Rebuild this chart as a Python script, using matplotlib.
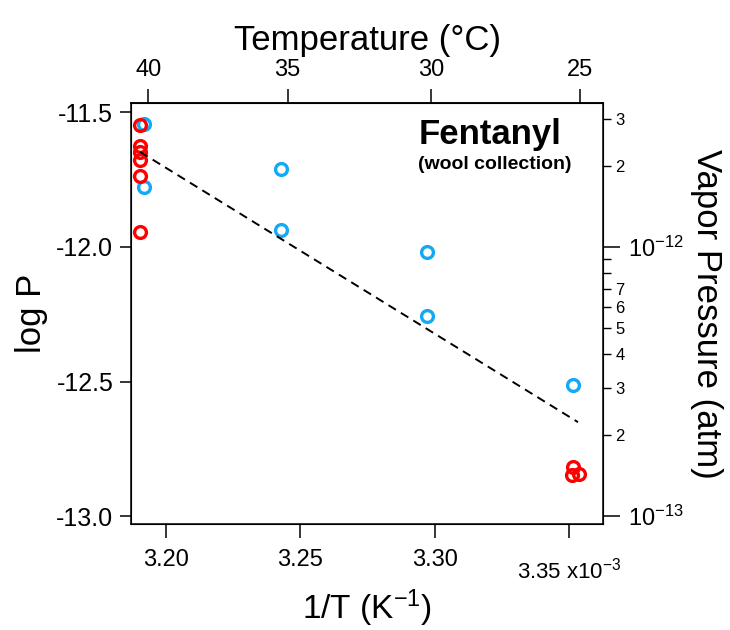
import numpy as np
import matplotlib
matplotlib.use("Agg")
import matplotlib.pyplot as plt
from matplotlib.ticker import FixedLocator, FuncFormatter

plt.rcParams['font.family'] = ['Liberation Sans', 'DejaVu Sans']
plt.rcParams['mathtext.default'] = 'regular'

# 1/T in units of 1e-3 K^-1, log10 P
blue_x = [3.1916, 3.1916, 3.2428, 3.2428, 3.2972, 3.2972, 3.3515]
blue_y = [-11.543, -11.777, -11.710, -11.937, -12.019, -12.257, -12.513]
red_x = [3.1903, 3.1903, 3.1903, 3.1903, 3.1903, 3.1903, 3.3515, 3.3511, 3.3537]
red_y = [-11.546, -11.623, -11.646, -11.677, -11.736, -11.944, -12.818, -12.848, -12.844]
fit_x = [3.1903, 3.3534]
fit_y = [-11.647, -12.651]

bottom_ticks = [3.20, 3.25, 3.30, 3.35]
bottom_labels = ['3.20', '3.25', '3.30', '']
left_ticks = [-11.5, -12.0, -12.5, -13.0]
top_ticks = [40, 35, 30, 25]

xlim = (3.1870, 3.3627)
ylim = (-13.030, -11.465)

fig = plt.figure(figsize=(7.3, 6.3), dpi=100)
ax = fig.add_axes([0.180, 0.168, 0.646, 0.6685])

ax.plot(blue_x, blue_y, 'o', mfc='none', mec='#12aaf5', ms=8.5, mew=2.4, zorder=3)
ax.plot(red_x, red_y, 'o', mfc='none', mec='#ff0000', ms=8.5, mew=2.4, zorder=4)
ax.plot(fit_x, fit_y, color='black', lw=1.4, ls=(0, (4.5, 3)), zorder=5)

ax.set_xlim(*xlim)
ax.set_ylim(*ylim)
for s in ax.spines.values():
    s.set_linewidth(1.1)

ax.set_xticks(bottom_ticks)
ax.set_xticklabels(bottom_labels)
ax.set_yticks(left_ticks)
ax.set_yticklabels([f'{v:.1f}' for v in left_ticks])
ax.tick_params(axis='x', direction='out', length=10, width=1.1, pad=8, labelsize=17)
ax.tick_params(axis='y', direction='out', length=8, width=1.1, pad=5, labelsize=18)
ax.text(3.35, -0.08, '3.35 x10$^{-3}$', transform=ax.get_xaxis_transform(),
        ha='center', va='top', fontsize=16)

ax.set_xlabel('1/T (K$^{-1}$)', fontsize=24, labelpad=12)
ax.set_ylabel('log P', fontsize=25, labelpad=6)

# top axis: temperature in C
top = ax.secondary_xaxis('top', functions=(lambda u: 1e3 / np.asarray(u) - 273.15,
                                             lambda t: 1e3 / (np.asarray(t) + 273.15)))
top.set_xticks(top_ticks)
top.set_xticklabels([str(t) for t in top_ticks])
top.tick_params(direction='out', length=10, width=1.1, pad=6, labelsize=17)
top.spines['top'].set_linewidth(1.1)
top.set_xlabel('Temperature (°C)', fontsize=25, labelpad=6)

# right axis: vapor pressure (log)
rax = ax.twinx()
rax.set_yscale('log')
rax.set_ylim(10 ** ylim[0], 10 ** ylim[1])
rax.yaxis.set_major_locator(FixedLocator([1e-13, 1e-12]))
minor = [m * 1e-13 for m in range(2, 10)] + [m * 1e-12 for m in range(2, 4)]
rax.yaxis.set_minor_locator(FixedLocator(minor))
labeled = {2, 3, 4, 5, 6, 7}


def minor_fmt(v, pos):
    m = v / 10 ** np.floor(np.log10(v) + 1e-9)
    m = int(round(m))
    return str(m) if m in labeled else ''


rax.yaxis.set_minor_formatter(FuncFormatter(minor_fmt))
rax.tick_params(axis='y', which='major', direction='out', length=12, width=1.1, pad=6, labelsize=17)
rax.tick_params(axis='y', which='minor', direction='out', length=6, width=1.0, pad=3, labelsize=12)
rax.set_ylabel('Vapor Pressure (atm)', fontsize=25, rotation=270, labelpad=28)

ax.text(0.76, 0.925, 'Fentanyl', transform=ax.transAxes, ha='center', va='center',
        fontsize=25, fontweight='bold')
ax.text(0.77, 0.855, '(wool collection)', transform=ax.transAxes, ha='center', va='center',
        fontsize=14, fontweight='bold')

fig.savefig('out.png', dpi=100)
